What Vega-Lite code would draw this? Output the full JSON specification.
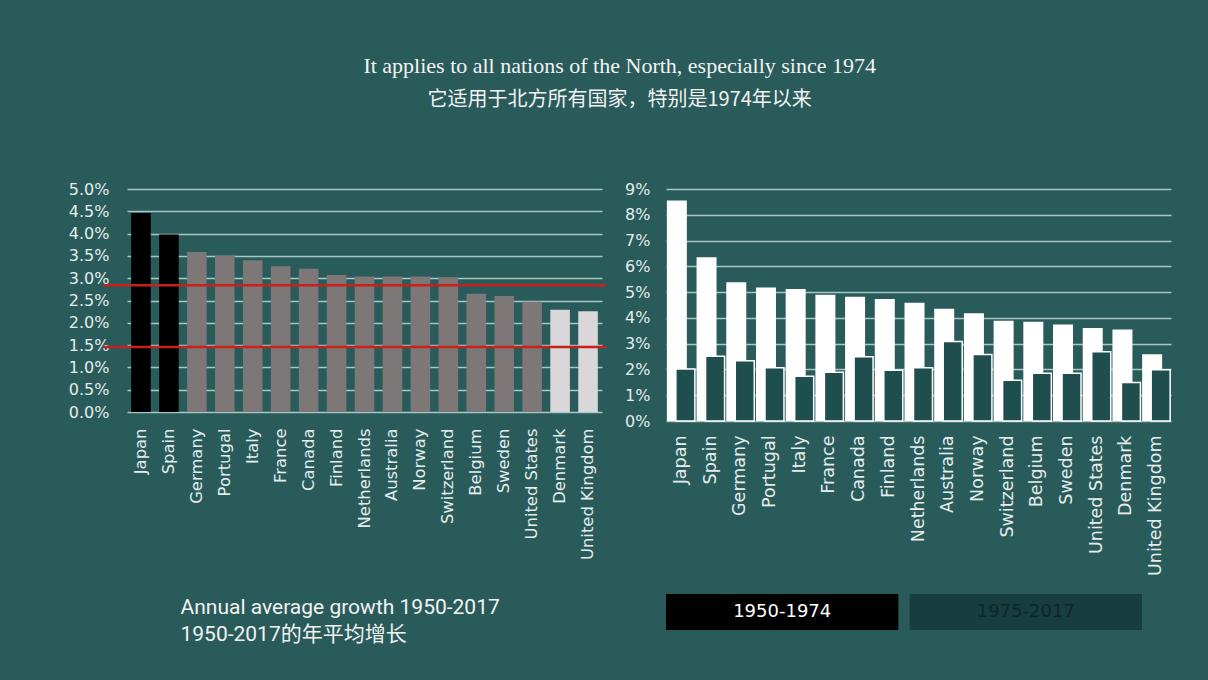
{
  "$schema": "https://vega.github.io/schema/vega-lite/v6.json",
  "background": "#295b5a",
  "padding": {"left": 68, "top": 55, "right": 38, "bottom": 38},
  "title": {
    "text": "It applies to all nations of the North, especially since 1974",
    "subtitle": "它适用于北方所有国家，特别是1974年以来",
    "anchor": "middle",
    "font": "Liberation Serif",
    "fontSize": 22,
    "fontWeight": "normal",
    "color": "#f2f2f2",
    "subtitleFont": "Noto Sans CJK SC",
    "subtitleFontSize": 20,
    "subtitleColor": "#f2f2f2",
    "subtitlePadding": 12,
    "offset": 70
  },
  "datasets": {
    "growth": [
      {"country": "Japan", "avg": 0.0446, "early": 0.0855, "late": 0.0202, "tier": "top"},
      {"country": "Spain", "avg": 0.0398, "early": 0.0635, "late": 0.0251, "tier": "top"},
      {"country": "Germany", "avg": 0.0359, "early": 0.0538, "late": 0.0234, "tier": "mid"},
      {"country": "Portugal", "avg": 0.0351, "early": 0.0518, "late": 0.0207, "tier": "mid"},
      {"country": "Italy", "avg": 0.034, "early": 0.0512, "late": 0.0174, "tier": "mid"},
      {"country": "France", "avg": 0.0327, "early": 0.049, "late": 0.0189, "tier": "mid"},
      {"country": "Canada", "avg": 0.0321, "early": 0.0482, "late": 0.0249, "tier": "mid"},
      {"country": "Finland", "avg": 0.0307, "early": 0.0473, "late": 0.0197, "tier": "mid"},
      {"country": "Netherlands", "avg": 0.0304, "early": 0.0459, "late": 0.0207, "tier": "mid"},
      {"country": "Australia", "avg": 0.0304, "early": 0.0435, "late": 0.0308, "tier": "mid"},
      {"country": "Norway", "avg": 0.0304, "early": 0.0418, "late": 0.0258, "tier": "mid"},
      {"country": "Switzerland", "avg": 0.0302, "early": 0.0389, "late": 0.0158, "tier": "mid"},
      {"country": "Belgium", "avg": 0.0265, "early": 0.0385, "late": 0.0185, "tier": "mid"},
      {"country": "Sweden", "avg": 0.026, "early": 0.0374, "late": 0.0185, "tier": "mid"},
      {"country": "United States", "avg": 0.0247, "early": 0.0361, "late": 0.0269, "tier": "mid"},
      {"country": "Denmark", "avg": 0.0229, "early": 0.0355, "late": 0.0149, "tier": "low"},
      {"country": "United Kingdom", "avg": 0.0226, "early": 0.0259, "late": 0.0199, "tier": "low"}
    ],
    "lines": [{"level": 0.0284}, {"level": 0.0146}],
    "periods": [{"period": "1950-1974"}, {"period": "1975-2017"}]
  },
  "config": {
    "view": {"stroke": null},
    "axis": {
      "labelColor": "#e4ecec",
      "labelFont": "DejaVu Sans",
      "labelFontSize": 16,
      "labelOverlap": false,
      "gridColor": "#a8c6c2",
      "gridWidth": 1.5,
      "domain": false,
      "ticks": false
    }
  },
  "bounds": "flush",
  "spacing": 64,
  "hconcat": [
    {
      "width": 475,
      "height": 223,
      "data": {"name": "growth"},
      "layer": [
        {
          "mark": {"type": "bar"},
          "encoding": {
            "x": {
              "field": "country",
              "type": "nominal",
              "sort": null,
              "scale": {
                "domain": ["Japan", "Spain", "Germany", "Portugal", "Italy", "France", "Canada", "Finland", "Netherlands", "Australia", "Norway", "Switzerland", "Belgium", "Sweden", "United States", "Denmark", "United Kingdom"],
                "paddingInner": 0.3,
                "paddingOuter": 0.15
              },
              "axis": {
                "title": ["Annual average growth 1950-2017", "1950-2017的年平均增长"],
                "labelAngle": -90,
                "labelPadding": 16,
                "labelFontSize": 16.4,
                "titleFont": "Roboto, Noto Sans CJK SC",
                "titleFontSize": 21,
                "titleFontWeight": "normal",
                "titleColor": "#f2f2f2",
                "titleAnchor": "start",
                "titleAlign": "left",
                "titleBaseline": "top",
                "titleX": 53,
                "titleY": 184,
                "titleLineHeight": 27
              }
            },
            "y": {
              "field": "avg",
              "type": "quantitative",
              "title": null,
              "scale": {"domain": [0, 0.05]},
              "axis": {
                "values": [0, 0.005, 0.01, 0.015, 0.02, 0.025, 0.03, 0.035, 0.04, 0.045, 0.05],
                "format": ".1%",
                "labelPadding": 18
              }
            },
            "color": {
              "field": "tier",
              "type": "nominal",
              "scale": {"domain": ["top", "mid", "low"], "range": ["#000000", "#7d7777", "#d9d7d9"]},
              "legend": null
            }
          }
        },
        {
          "data": {"name": "lines"},
          "mark": {"type": "rule", "color": "#c9201c", "strokeWidth": 2.5, "xOffset": -38, "x2Offset": 18},
          "encoding": {
            "x": {
              "datum": "Japan",
              "type": "nominal",
              "axis": {
                "title": ["Annual average growth 1950-2017", "1950-2017的年平均增长"],
                "labelAngle": -90,
                "labelPadding": 16,
                "labelFontSize": 16.4,
                "titleFont": "Roboto, Noto Sans CJK SC",
                "titleFontSize": 21,
                "titleFontWeight": "normal",
                "titleColor": "#f2f2f2",
                "titleAnchor": "start",
                "titleAlign": "left",
                "titleBaseline": "top",
                "titleX": 53,
                "titleY": 184,
                "titleLineHeight": 27
              }
            },
            "x2": {"datum": "United Kingdom"},
            "y": {
              "field": "level",
              "type": "quantitative",
              "title": null,
              "axis": {
                "values": [0, 0.005, 0.01, 0.015, 0.02, 0.025, 0.03, 0.035, 0.04, 0.045, 0.05],
                "format": ".1%",
                "labelPadding": 18
              }
            }
          }
        }
      ]
    },
    {
      "bounds": "flush",
      "spacing": 173,
      "vconcat": [
        {
          "width": 505,
          "height": 232,
          "data": {"name": "growth"},
          "encoding": {
            "x": {
              "field": "country",
              "type": "nominal",
              "sort": null,
              "title": null,
              "scale": {"paddingInner": 0, "paddingOuter": 0},
              "axis": {"labelAngle": -90, "labelPadding": 14, "labelFontSize": 17.5}
            }
          },
          "layer": [
            {
              "mark": {"type": "bar", "fill": "#ffffff", "width": 20, "xOffset": -4},
              "encoding": {
                "y": {
                  "field": "early",
                  "type": "quantitative",
                  "title": null,
                  "scale": {"domain": [0, 0.09]},
                  "axis": {
                    "values": [0, 0.01, 0.02, 0.03, 0.04, 0.05, 0.06, 0.07, 0.08, 0.09],
                    "format": ".0%",
                    "labelPadding": 16
                  }
                }
              }
            },
            {
              "mark": {"type": "bar", "fill": "#1f4e4f", "stroke": "#ffffff", "strokeWidth": 1.5, "width": 19, "xOffset": 4.5},
              "encoding": {
                "y": {
                  "field": "late",
                  "type": "quantitative",
                  "title": null,
                  "axis": {
                    "values": [0, 0.01, 0.02, 0.03, 0.04, 0.05, 0.06, 0.07, 0.08, 0.09],
                    "format": ".0%",
                    "labelPadding": 16
                  }
                }
              }
            }
          ]
        },
        {
          "width": 476,
          "height": 36,
          "data": {"name": "periods"},
          "encoding": {
            "x": {
              "field": "period",
              "type": "nominal",
              "sort": null,
              "axis": null,
              "scale": {"paddingInner": 0.046, "paddingOuter": 0}
            },
            "y": {
              "datum": "legend",
              "type": "nominal",
              "axis": null,
              "scale": {"paddingInner": 0, "paddingOuter": 0}
            }
          },
          "layer": [
            {
              "mark": {"type": "bar"},
              "encoding": {
                "color": {
                  "condition": {"test": "datum.period == '1950-1974'", "value": "#000000"},
                  "value": "#183d3e"
                }
              }
            },
            {
              "mark": {"type": "text", "font": "DejaVu Sans", "fontSize": 18},
              "encoding": {
                "text": {"field": "period"},
                "color": {
                  "condition": {"test": "datum.period == '1950-1974'", "value": "#ffffff"},
                  "value": "#0e2828"
                }
              }
            }
          ]
        }
      ]
    }
  ]
}
